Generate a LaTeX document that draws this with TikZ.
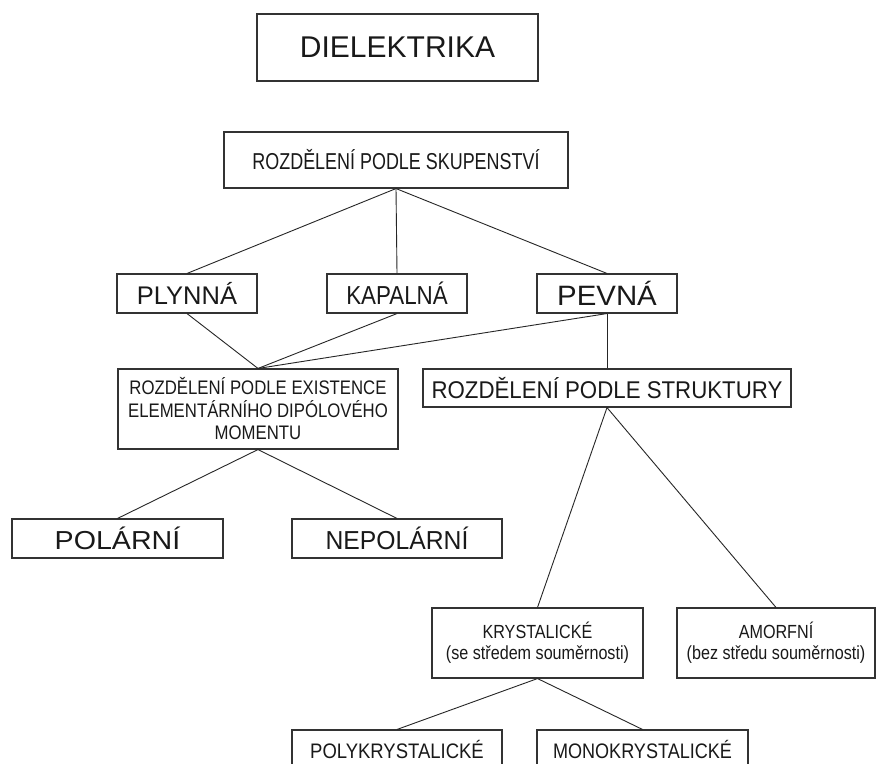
\documentclass[tikz,border=0pt]{standalone}
\usepackage{fontspec}
\setmainfont{Liberation Sans}
\newcommand{\nf}[3]{\fontsize{#1pt}{#2pt}\selectfont\addfontfeatures{FakeStretch=#3}}
\tikzset{
  box/.style={draw=black!80, line width=1.1pt, fill=white, inner sep=0pt, align=center, text=black!90},
  conn/.style={draw=black!85, line width=0.9pt},
}
\begin{document}
\begin{tikzpicture}[x=1pt,y=-1pt]
\clip (0,0) rectangle (877,763);
\fill[white] (0,0) rectangle (877,763);
% nodes
\node[box, minimum width=281, minimum height=67, font={\nf{30}{34}{1}}] (diel) at (397.5,47.5) {DIELEKTRIKA};
\node[box, minimum width=344, minimum height=56, font={\nf{23}{26}{0.78}}] (skup) at (396,160) {ROZDĚLENÍ PODLE SKUPENSTVÍ};
\node[box, minimum width=140, minimum height=39, font={\nf{25.5}{28}{1}}] (plyn) at (187,293.5) {PLYNNÁ};
\node[box, minimum width=140, minimum height=39, font={\nf{26}{28}{0.86}}] (kapal) at (397,293.5) {KAPALNÁ};
\node[box, minimum width=140, minimum height=39, font={\nf{28}{31}{1.05}}] (pevna) at (607,293.5) {PEVNÁ};
\node[box, minimum width=280, minimum height=80, font={\nf{19.6}{22.5}{0.855}}] (dip) at (258,409) {ROZDĚLENÍ PODLE EXISTENCE\\ELEMENTÁRNÍHO DIPÓLOVÉHO\\MOMENTU};
\node[box, minimum width=368, minimum height=38, font={\nf{24.2}{27}{0.92}}] (strukt) at (607,388) {ROZDĚLENÍ PODLE STRUKTURY};
\node[box, minimum width=211, minimum height=39, font={\nf{26}{29}{1.1}}] (polar) at (117.5,538.5) {POLÁRNÍ};
\node[box, minimum width=210, minimum height=39, font={\nf{26}{29}{0.95}}] (nepol) at (397,538.5) {NEPOLÁRNÍ};
\node[box, minimum width=211, minimum height=70, font={\nf{19}{21}{0.85}}] (kryst) at (537.5,643) {KRYSTALICKÉ\\(se středem souměrnosti)};
\node[box, minimum width=198, minimum height=70, font={\nf{19}{21}{0.85}}] (amorf) at (776,643) {AMORFNÍ\\(bez středu souměrnosti)};
\node[box, minimum width=210, minimum height=38, font={\nf{21}{24}{0.88}}] (poly) at (397,749) {POLYKRYSTALICKÉ};
\node[box, minimum width=211, minimum height=38, font={\nf{21}{24}{0.86}}] (mono) at (642.5,749) {MONOKRYSTALICKÉ};
% connectors
\draw[conn] (skup.south) -- (plyn.north);
\draw[conn] (skup.south) -- (kapal.north);
\draw[conn] (skup.south) -- (pevna.north);
\draw[conn] (plyn.south) -- (dip.north);
\draw[conn] (kapal.south) -- (dip.north);
\draw[conn] (pevna.south) -- (dip.north);
\draw[conn] (pevna.south) -- (strukt.north);
\draw[conn] (dip.south) -- (polar.north);
\draw[conn] (dip.south) -- (nepol.north);
\draw[conn] (strukt.south) -- (kryst.north);
\draw[conn] (strukt.south) -- (amorf.north);
\draw[conn] (kryst.south) -- (poly.north);
\draw[conn] (kryst.south) -- (mono.north);
\end{tikzpicture}
\end{document}
